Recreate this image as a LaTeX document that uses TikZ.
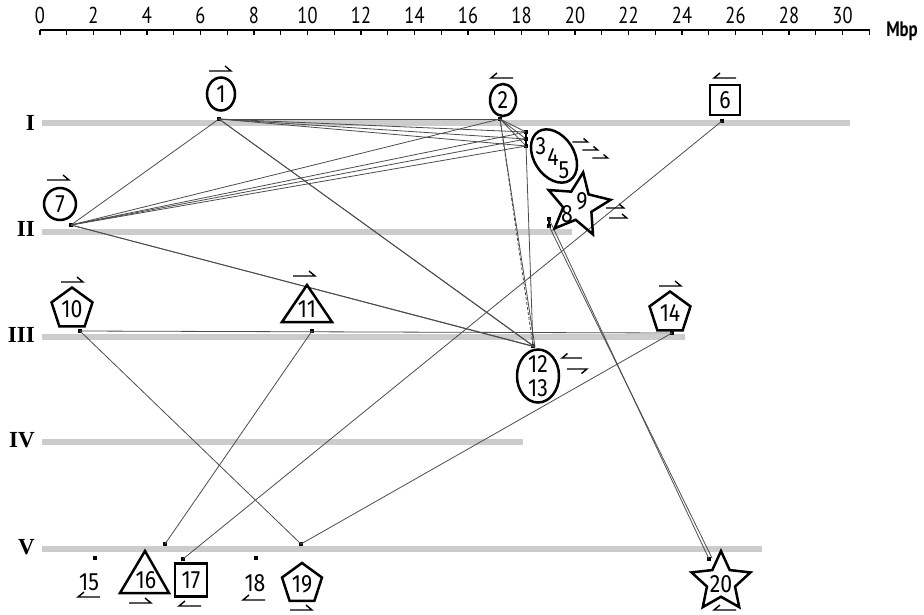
\documentclass[tikz,border=0pt]{standalone}
\usepackage{fontspec}
\setmainfont{Liberation Serif}
\newfontfamily\numfont[FakeStretch=0.85]{Fira Sans}
\newfontfamily\rulerfont[FakeStretch=0.8]{PT Sans}
\usetikzlibrary{shapes.geometric}
\begin{document}
\begin{tikzpicture}[x=1pt,y=-1pt,
  chrom/.style={line width=6pt, draw=black!20},
  link/.style={draw=black!70, line width=0.8pt},
  gdot/.style={fill=black, draw=none, inner sep=0pt, minimum size=4.5pt, rectangle},
  gshape/.style={draw=black, line width=2.5pt, inner sep=0pt, font=\numfont\fontsize{25}{21}\selectfont},
  shapeline/.style={draw=black, line width=2.5pt},
  num/.style={inner sep=0pt, font=\numfont\fontsize{25}{21}\selectfont},
  harp/.style={line width=1.4pt},
  rn/.style={font=\bfseries\fontsize{23}{23}\selectfont, anchor=east, inner sep=0pt},
  rlab/.style={font=\rulerfont\fontsize{23}{23}\selectfont, inner sep=0pt},
  rharp/.pic={\draw[harp] (-11,0)--(11,0)--(5,-5);},
  lharp/.pic={\draw[harp] (11,0)--(-11,0)--(-5,-5);},
  rharpd/.pic={\draw[harp] (-11,0)--(11,0)--(5,5);}
]
\useasboundingbox (0,0) rectangle (924,614);

% ruler
\draw[line width=1.1pt] (40,30) -- (870,30);
\foreach \i in {0,...,31} \draw[line width=1.1pt] (40+26.75*\i,30) -- ++(0,5);
\foreach \i in {0,2,...,30} \node[rlab] (r\i) at (40+26.75*\i,15) {\i};
\node[font=\rulerfont\bfseries\fontsize{21}{21}\selectfont, inner sep=0pt] (mbp) at (902,31) {Mbp};

% chromosomes
\draw[chrom] (42,123) -- (850,123);
\draw[chrom] (42,232) -- (572,232);
\draw[chrom] (42,337) -- (685,337);
\draw[chrom] (42,442) -- (523,442);
\draw[chrom] (42,549) -- (762,549);
\node[rn] (cI) at (35,123) {I};
\node[rn] (cII) at (35,229) {II};
\node[rn] (cIII) at (35,335) {III};
\node[rn] (cIV) at (35,440) {IV};
\node[rn] (cV) at (35,547) {V};

% gene dots
\node[gdot] (d1) at (219,119) {};
\node[gdot] (d2) at (500,119) {};
\node[gdot] (d6) at (722,121) {};
\node[gdot] (d3) at (526,132) {};
\node[gdot] (d4) at (526,139) {};
\node[gdot] (d5) at (526,146) {};
\node[gdot] (d7) at (71,225) {};
\node[gdot] (d8) at (549,219) {};
\node[gdot] (d9) at (549,226) {};
\node[gdot] (d10) at (80,331) {};
\node[gdot] (d11) at (312,331) {};
\node[gdot] (d14) at (672,333) {};
\node[gdot] (d12) at (533,346) {};
\coordinate (d12b) at (535,347);
\node[gdot] (d15) at (95,558) {};
\node[gdot] (d16) at (165,544) {};
\node[gdot] (d17) at (183,559) {};
\node[gdot] (d18) at (256,558) {};
\node[gdot] (d19) at (301,544) {};
\node[gdot] (d20) at (709,559) {};
\coordinate (d20b) at (712,558);

% connectors
\draw[link] (d1.center) -- (d7.center);
\draw[link] (d1.center) -- (d2.center);
\draw[link] (d7.center) -- (d2.center);
\foreach \t in {d3,d4,d5}{
  \draw[link] (d1.center) -- (\t.center);
  \draw[link] (d7.center) -- (\t.center);
  \draw[link] (d2.center) -- (\t.center);
}
\draw[line width=2.5pt] (d3.center) -- (d5.center);
\draw[line width=2pt] (d8.center) -- (d9.center);
\draw[link] (d1.center) -- (d12.center);
\draw[link] (d1.center) -- (d12b);
\draw[link] (d7.center) -- (d12.center);
\draw[link] (d7.center) -- (d12b);
\draw[link, densely dashed] (d2.center) -- (d12.center);
\draw[link] (d2.center) -- (d12b);
\draw[link] (d5.center) -- (d12.center);
\draw[link] (d8.center) -- (d20.center);
\draw[link] (d9.center) -- (d20b);
\draw[link] (d6.center) -- (d17.center);
\draw[link] (d11.center) -- (d16.center);
\draw[link] (d10.center) -- (d19.center);
\draw[link] (d14.center) -- (d19.center);
\draw[link] (d10.center) -- (d14.center);

% gene symbols
\node[gshape, ellipse, minimum width=28pt, minimum height=33pt] (g1) at (221,94) {1};
\node[gshape, ellipse, minimum width=26pt, minimum height=32pt] (g2) at (503,100) {2};
\node[gshape, rectangle, minimum size=30pt] (g6) at (725,100) {6};
\node[gshape, circle, minimum size=32pt] (g7) at (60,204) {7};
\node[gshape, ellipse, minimum width=58pt, minimum height=40pt, rotate=-57] (g345) at (554,156) {};
\node[num] (t3) at (541,146) {3};
\node[num] (t4) at (553,157) {4};
\node[num] (t5) at (564,170) {5};
\node[gshape, star, star points=5, star point ratio=2.2, minimum size=66pt, rotate=-9] (g89) at (578,205) {};
\node[num] (t8) at (567,214) {8};
\node[num] (t9) at (582,201) {9};
\node[gshape, regular polygon, regular polygon sides=5, minimum size=43pt] (g10) at (72,309) {10};
\node[num] (g11) at (307,309) {11};
\draw[shapeline] (g11.center) ++(0,-24) -- ++(25,37) -- ++(-50,0) -- cycle;
\node[gshape, regular polygon, regular polygon sides=5, minimum size=43pt] (g14) at (670,313) {14};
\node[gshape, ellipse, minimum width=42pt, minimum height=53pt] (g12) at (538,376) {};
\node[num] (t12) at (538,364) {12};
\node[num] (t13) at (538,388) {13};
\node[num] (g15) at (89,582) {15};
\node[num] (g16) at (146,580) {16};
\draw[shapeline] (g16.center) ++(-1,-29) -- ++(24,42) -- ++(-49,0) -- cycle;
\node[gshape, rectangle, minimum width=32pt, minimum height=33pt] (g17) at (191,580) {17};
\node[num] (g18) at (255,583) {18};
\node[gshape, regular polygon, regular polygon sides=5, minimum size=42pt] (g19) at (302,584) {19};
\node[gshape, star, star points=5, star point ratio=2.1, minimum size=62pt] (g20) at (721,582) {};
\node[num] (t20) at (721,584) {20};

% orientation harpoons
\pic at (220,71) {rharp};
\pic at (502,78) {lharp};
\pic at (725,78) {lharp};
\pic at (58,180) {rharp};
\pic[scale=0.7] at (580,142) {rharp};
\pic[scale=0.7] at (590,150) {rharp};
\pic[scale=0.7] at (600,158) {rharp};
\pic[scale=0.8] at (615,208) {rharp};
\pic[scale=0.8] at (618,218) {rharp};
\pic at (72,282) {rharp};
\pic at (304,276) {rharp};
\pic at (670,286) {rharp};
\pic[scale=0.9] at (572,358) {lharp};
\pic[scale=0.9] at (577,369) {rharpd};
\pic at (89,597) {lharp};
\pic at (140,603) {rharp};
\pic at (190,606) {lharp};
\pic at (254,600) {lharp};
\pic at (301,610) {rharp};
\pic at (725,610) {lharp};
\end{tikzpicture}
\end{document}
